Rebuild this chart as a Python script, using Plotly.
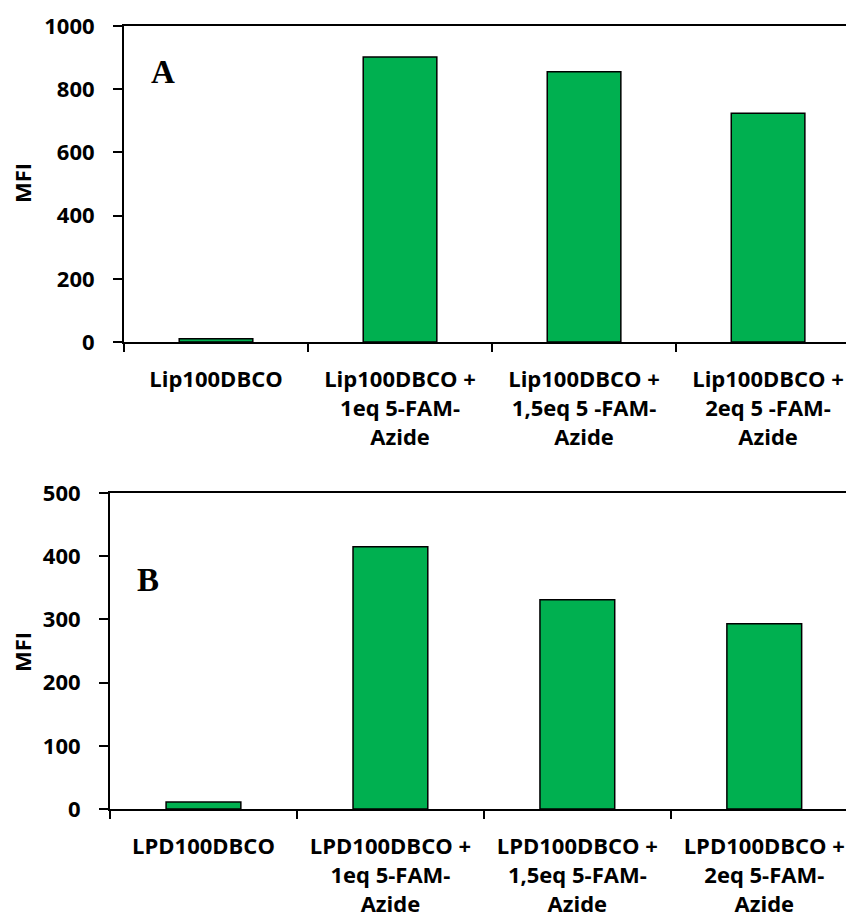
import plotly.graph_objects as go

# Data
cats_a = ["Lip100DBCO",
          "Lip100DBCO +<br>1eq 5-FAM-<br>Azide",
          "Lip100DBCO +<br>1,5eq 5 -FAM-<br>Azide",
          "Lip100DBCO +<br>2eq 5 -FAM-<br>Azide"]
mfi_a = [10, 902, 855, 724]

cats_b = ["LPD100DBCO",
          "LPD100DBCO +<br>1eq 5-FAM-<br>Azide",
          "LPD100DBCO +<br>1,5eq 5-FAM-<br>Azide",
          "LPD100DBCO +<br>2eq 5-FAM-<br>Azide"]
mfi_b = [11, 415, 331, 293]

# page has an 8px body margin, so work in figure pixels = page pixels - 8
OFF = 8
W, H = 854 - OFF, 917 - OFF
GREEN = "#00B050"
font = dict(family="Open Sans", size=22, color="black", weight="bold")


def px(x):
    return (x - OFF) / W


def py(y):
    return 1 - (y - OFF) / H


fig = go.Figure()
fig.add_trace(go.Bar(x=cats_a, y=mfi_a, width=0.4, marker=dict(color=GREEN, line=dict(color="black", width=1.5)),
                     xaxis="x", yaxis="y"))
fig.add_trace(go.Bar(x=cats_b, y=mfi_b, width=0.4, marker=dict(color=GREEN, line=dict(color="black", width=1.5)),
                     xaxis="x2", yaxis="y2"))

xcommon = dict(type="category", showline=True, linecolor="black", linewidth=2, mirror=True,
               ticks="outside", tickson="boundaries", ticklen=8, tickwidth=2, tickcolor="black",
               tickfont=font, showgrid=False, zeroline=False, automargin=False, ticklabelstandoff=17)
ycommon = dict(showline=True, linecolor="black", linewidth=2, ticks="outside", ticklen=9,
               tickwidth=2, tickcolor="black", tickfont=font, showgrid=False, zeroline=False,
               automargin=False, ticklabelstandoff=14)

fig.update_layout(
    width=W, height=H, margin=dict(l=0, r=0, t=0, b=0),
    paper_bgcolor="white", plot_bgcolor="white", showlegend=False, font=font,
    xaxis=dict(xcommon, domain=[px(124), 1], range=[-0.5, 3.467], anchor="y"),
    yaxis=dict(ycommon, domain=[py(342), py(26)], range=[0, 1000], dtick=200, anchor="x"),
    xaxis2=dict(xcommon, domain=[px(110), 1], range=[-0.5, 3.48], anchor="y2"),
    yaxis2=dict(ycommon, domain=[py(809), py(493)], range=[0, 500], dtick=100, anchor="x2"),
)

letter = dict(family="Liberation Serif", size=33, color="black", weight="bold")
fig.add_annotation(text="A", x=px(163), y=py(72), xref="paper", yref="paper",
                   xanchor="center", yanchor="middle", showarrow=False, font=letter)
fig.add_annotation(text="B", x=px(148), y=py(580), xref="paper", yref="paper",
                   xanchor="center", yanchor="middle", showarrow=False, font=letter)
for yc in (183, 652):
    fig.add_annotation(text="MFI", x=px(22), y=py(yc), xref="paper", yref="paper", textangle=-90,
                       xanchor="center", yanchor="middle", showarrow=False, font=font)

fig.write_html("out.html")
